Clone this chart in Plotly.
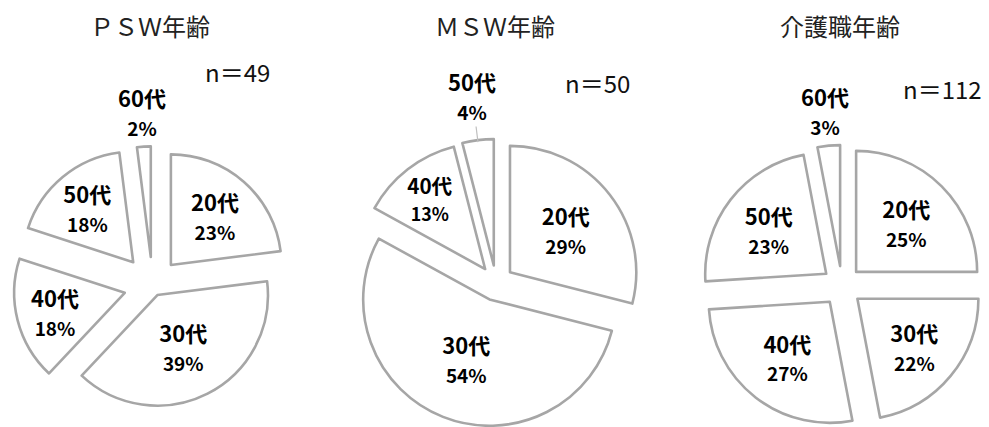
import math
import plotly.graph_objects as go

# ---- data ----
psw_labels = ["20代", "30代", "40代", "50代", "60代"]
psw_values = [23, 39, 18, 18, 2]
msw_labels = ["20代", "30代", "40代", "50代"]
msw_values = [29, 54, 13, 4]
care_labels = ["20代", "30代", "40代", "50代", "60代"]
care_values = [25, 22, 27, 23, 3]
titles = ["ＰＳＷ年齢", "ＭＳＷ年齢", "介護職年齢"]
n_texts = ["n＝49", "n＝50", "n＝112"]

# ---- layout / style ----
W, H = 989, 427
LINE = "#a6a6a6"
LABEL_FONT = "Noto Sans CJK JP, Noto Sans, sans-serif"
TITLE_FONT = "Liberation Serif, Noto Sans CJK JP, serif"
TEMPLATE = "%{label}<br><span style='font-size:19px'>%{value}%</span>"


def dom(cx, cy, half):
    x0 = max(0.0, (cx - half) / W)
    x1 = min(1.0, (cx + half) / W)
    y0 = max(0.0, (H - cy - half) / H)
    y1 = min(1.0, (H - cy + half) / H)
    return dict(x=[x0, x1], y=[y0, y1])


# pie geometry (pixels): centre x, centre y, half box, pulls, outer-label distance factor,
# which slices get an outside label, and whether that label has a leader line
pies = [
    dict(labels=psw_labels, values=psw_values, cx=152.6, cy=285.7, half=141,
         pull=[0.25, 0.095, 0.26, 0.275, 0.26], k=1.58, outside=[4], leader=False),
    dict(labels=msw_labels, values=msw_values, cx=496, cy=283, half=144,
         pull=[0.14, 0.14, 0.14, 0.14], k=1.5, outside=[3], leader=True),
    dict(labels=care_labels, values=care_values, cx=842, cy=286, half=141,
         pull=[0.165] * 5, k=1.46, outside=[4], leader=False),
]

fig = go.Figure()
annotations = []
for p in pies:
    n = len(p["labels"])
    positions = ["none" if i in p["outside"] else "inside" for i in range(n)]
    fig.add_trace(go.Pie(
        labels=p["labels"],
        values=p["values"],
        sort=False,
        direction="clockwise",
        rotation=0,
        pull=p["pull"],
        domain=dom(p["cx"], p["cy"], p["half"]),
        automargin=False,
        marker=dict(colors=["white"] * n, line=dict(color=LINE, width=2.6)),
        texttemplate=TEMPLATE,
        textposition=positions,
        insidetextorientation="horizontal",
        textfont=dict(family=LABEL_FONT, size=22, color="black", weight="bold"),
        showlegend=False,
        hoverinfo="label+value",
    ))
    # labels for the thin slices, placed on the slice bisector above the pie
    r = p["half"] / (1 + max(p["pull"]))
    total = sum(p["values"])
    for i in p["outside"]:
        mid = (sum(p["values"][:i]) + p["values"][i] / 2) / total * 2 * math.pi
        sx, sy = math.sin(mid), -math.cos(mid)
        tx = p["cx"] + p["k"] * r * sx
        ty = p["cy"] + p["k"] * r * sy
        text = f"{p['labels'][i]}<br><span style='font-size:19px'>{p['values'][i]}%</span>"
        font = dict(family=LABEL_FONT, size=22, color="black", weight="bold")
        if p["leader"]:
            tipx = p["cx"] + (1 + p["pull"][i]) * r * sx
            tipy = p["cy"] + (1 + p["pull"][i]) * r * sy + 2
            annotations.append(dict(text=text, x=tipx / W, y=1 - tipy / H, xref="paper",
                                    yref="paper", ax=tx - tipx, ay=ty - tipy, axref="pixel",
                                    ayref="pixel", showarrow=True, arrowhead=0,
                                    arrowwidth=1.2, arrowcolor="#bfbfbf", standoff=0,
                                    font=font, align="center"))
        else:
            annotations.append(dict(text=text, x=tx / W, y=1 - ty / H, xref="paper",
                                    yref="paper", xanchor="center", yanchor="middle",
                                    showarrow=False, font=font, align="center"))

for t, xc in zip(titles, [150, 495, 840]):
    annotations.append(dict(text=t, x=xc / W, y=1 - 28 / H, xref="paper", yref="paper",
                            xanchor="center", yanchor="middle", showarrow=False,
                            font=dict(family=TITLE_FONT, size=24, color="#222222")))
for t, (xl, yc) in zip(n_texts, [(203, 72), (563, 82), (901, 88)]):
    annotations.append(dict(text=t, x=xl / W, y=1 - yc / H, xref="paper", yref="paper",
                            xanchor="left", yanchor="middle", showarrow=False,
                            font=dict(family=LABEL_FONT, size=24, color="#111111")))

fig.update_layout(
    width=W, height=H,
    margin=dict(l=0, r=0, t=0, b=0, pad=0, autoexpand=False),
    paper_bgcolor="white", plot_bgcolor="white",
    showlegend=False,
    annotations=annotations,
)

fig.write_html("out.html")
